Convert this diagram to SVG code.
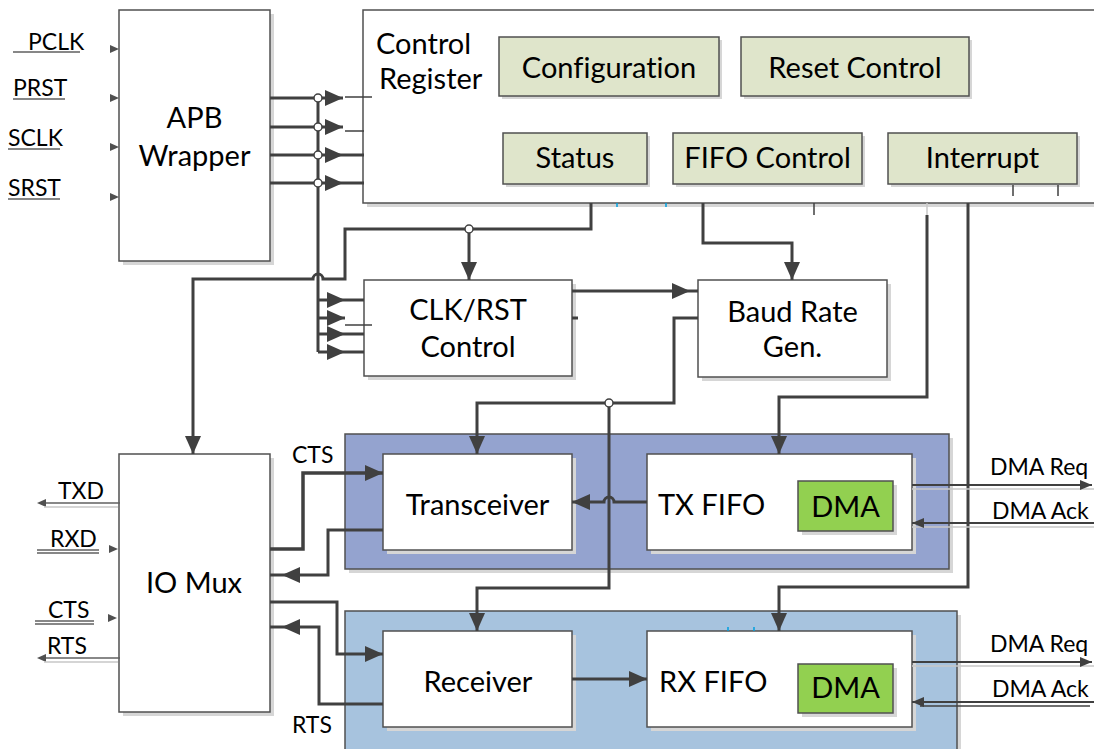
<svg xmlns="http://www.w3.org/2000/svg" width="1094" height="749" viewBox="0 0 1094 749">
  <defs>
    <style>
      .box { fill: #ffffff; stroke: #505050; stroke-width: 1.5; }
      .sh { fill: #d6d6d6; }
      .reg { fill: #dfe5cb; stroke: #505050; stroke-width: 1.5; }
      .dma { fill: #92d050; stroke: #505050; stroke-width: 1.5; }
      .txr { fill: #94a3cf; stroke: #505050; stroke-width: 1.5; }
      .rxr { fill: #a7c3de; stroke: #505050; stroke-width: 1.5; }
      .t { font-family: Lato, "Liberation Sans", sans-serif; font-size: 29px; fill: #000000; font-variant-ligatures: none; }
      .s { font-size: 23px; }
      .m { text-anchor: middle; }
      .w { fill: none; stroke: #404040; stroke-width: 3; }
      .n { fill: none; stroke: #404040; stroke-width: 1.5; }
      .g { fill: none; stroke: #c8c8c8; stroke-width: 1.5; }
      .io { fill: none; stroke: #606060; stroke-width: 1.5; }
      .j { fill: #ffffff; stroke: #404040; stroke-width: 1.5; }
      .pin { fill: #505050; }
      .tick { stroke: #00a0e0; stroke-width: 1.5; }
    </style>
    <marker id="arr" markerUnits="userSpaceOnUse" markerWidth="18" markerHeight="16" refX="18" refY="8" orient="auto">
      <path d="M0,0 L18,8 L0,16 z" fill="#404040"/>
    </marker>
    <marker id="arrs" markerUnits="userSpaceOnUse" markerWidth="12" markerHeight="10" refX="12" refY="5" orient="auto">
      <path d="M0,0 L12,5 L0,10 z" fill="#404040"/>
    </marker>
  </defs>

  <rect width="1094" height="749" fill="#ffffff"/>

  <!-- colour regions for the transmit and receive paths -->
  <g id="tx-path">
    <rect class="sh" x="349" y="438" width="604" height="135"/>
    <rect class="txr" x="345" y="434" width="604" height="135"/>
  </g>
  <g id="rx-path">
    <rect class="sh" x="349" y="615" width="612" height="150"/>
    <rect class="rxr" x="345" y="611" width="612" height="150"/>
  </g>

  <!-- APB wrapper -->
  <g id="apb-wrapper">
    <rect class="sh" x="123" y="14" width="151" height="251"/>
    <rect class="box" x="119" y="10" width="151" height="251"/>
    <text class="t m" x="194.5" y="128">APB</text>
    <text class="t m" x="194.5" y="166">Wrapper</text>
  </g>

  <!-- control register block and its fields -->
  <g id="control-register">
    <rect class="sh" x="367" y="14" width="740" height="193"/>
    <rect class="box" x="363" y="10" width="740" height="193"/>
    <text class="t" x="376" y="54">Control</text>
    <text class="t" x="379" y="89">Register</text>
  </g>
  <g id="configuration">
    <rect class="sh" x="502" y="40" width="220" height="59"/>
    <rect class="reg" x="499" y="37" width="220" height="59"/>
    <text class="t m" x="609" y="78">Configuration</text>
  </g>
  <g id="reset-control">
    <rect class="sh" x="744" y="40" width="228" height="59"/>
    <rect class="reg" x="741" y="37" width="228" height="59"/>
    <text class="t m" x="855" y="78">Reset Control</text>
  </g>
  <g id="status">
    <rect class="sh" x="506" y="136" width="144" height="51"/>
    <rect class="reg" x="503" y="133" width="144" height="51"/>
    <text class="t m" x="575" y="168">Status</text>
  </g>
  <g id="fifo-control">
    <rect class="sh" x="676" y="136" width="189" height="51"/>
    <rect class="reg" x="673" y="133" width="189" height="51"/>
    <text class="t m" x="767.5" y="168">FIFO Control</text>
  </g>
  <g id="interrupt">
    <rect class="sh" x="891" y="136" width="189" height="51"/>
    <rect class="reg" x="888" y="133" width="189" height="51"/>
    <text class="t m" x="982.5" y="168">Interrupt</text>
  </g>

  <!-- clock / reset control -->
  <g id="clk-rst-control">
    <rect class="sh" x="368" y="284" width="208" height="96"/>
    <rect class="box" x="364" y="280" width="208" height="96"/>
    <text class="t m" x="468" y="320">CLK/RST</text>
    <text class="t m" x="468" y="357">Control</text>
  </g>

  <!-- baud rate generator -->
  <g id="baud-rate-gen">
    <rect class="sh" x="702" y="284" width="189" height="97"/>
    <rect class="box" x="698" y="280" width="189" height="97"/>
    <text class="t m" x="792.5" y="322">Baud Rate</text>
    <text class="t m" x="792.5" y="357">Gen.</text>
  </g>

  <!-- IO multiplexer -->
  <g id="io-mux">
    <rect class="sh" x="123" y="458" width="151" height="258"/>
    <rect class="box" x="119" y="454" width="151" height="258"/>
    <text class="t m" x="194" y="593">IO Mux</text>
  </g>

  <!-- transmit side -->
  <g id="transceiver">
    <rect class="sh" x="387" y="458" width="189" height="96"/>
    <rect class="box" x="383" y="454" width="189" height="96"/>
    <text class="t m" x="477.5" y="515">Transceiver</text>
  </g>
  <g id="tx-fifo">
    <rect class="sh" x="651" y="458" width="265" height="96"/>
    <rect class="box" x="647" y="454" width="265" height="96"/>
    <text class="t" x="658" y="515">TX FIFO</text>
    <rect class="sh" x="802" y="485" width="95" height="50"/>
    <rect class="dma" x="798" y="481" width="95" height="50"/>
    <text class="t m" x="845.5" y="517">DMA</text>
  </g>

  <!-- receive side -->
  <g id="receiver">
    <rect class="sh" x="387" y="635" width="189" height="96"/>
    <rect class="box" x="383" y="631" width="189" height="96"/>
    <text class="t m" x="478" y="692">Receiver</text>
  </g>
  <g id="rx-fifo">
    <rect class="sh" x="651" y="635" width="265" height="96"/>
    <rect class="box" x="647" y="631" width="265" height="96"/>
    <text class="t" x="659" y="692">RX FIFO</text>
    <rect class="sh" x="802" y="668" width="95" height="49"/>
    <rect class="dma" x="798" y="664" width="95" height="49"/>
    <text class="t m" x="845.5" y="698">DMA</text>
  </g>

  <!-- connectors -->
  <g id="connectors">
    <!-- APB bus into the control register -->
    <path class="w" d="M270,98 H343" marker-end="url(#arr)"/>
    <path class="w" d="M270,127 H343" marker-end="url(#arr)"/>
    <path class="w" d="M270,155 H343" marker-end="url(#arr)"/>
    <path class="w" d="M270,183 H343" marker-end="url(#arr)"/>
    <path class="n" d="M345,97 H372 M345,131 H364"/>
    <path class="w" d="M343,155 H364 M343,183 H364"/>
    <!-- bus tap down to CLK/RST control -->
    <path class="w" d="M318,98 V352"/>
    <path class="w" d="M318,300 H345" marker-end="url(#arr)"/>
    <path class="w" d="M318,318 H345" marker-end="url(#arr)"/>
    <path class="w" d="M318,334 H345" marker-end="url(#arr)"/>
    <path class="w" d="M318,352 H345" marker-end="url(#arr)"/>
    <path class="w" d="M345,300 H364 M345,334 H364 M345,352 H364"/>
    <path class="n" d="M345,325 H372"/>
    <circle class="j" cx="318" cy="98" r="4"/>
    <circle class="j" cx="318" cy="127" r="4"/>
    <circle class="j" cx="318" cy="155" r="4"/>
    <circle class="j" cx="318" cy="183" r="4"/>

    <!-- status line to CLK/RST control and IO mux -->
    <path class="w" d="M591,203 V229 H345 V279 H323 A5,5 0 0 0 313,279 H193 V454" marker-end="url(#arr)"/>
    <path class="w" d="M469,229 V280" marker-end="url(#arr)"/>
    <circle class="j" cx="469" cy="229" r="4"/>

    <!-- FIFO control to baud rate generator -->
    <path class="w" d="M703,203 V243 H792 V280" marker-end="url(#arr)"/>
    <!-- CLK/RST control to baud rate generator -->
    <path class="w" d="M572,291 H690" marker-end="url(#arr)"/>
    <path class="w" d="M690,291 H698 M572,318 H578"/>

    <!-- baud clock to transceiver and receiver -->
    <path class="w" d="M698,318 H674 V403 H477 V454" marker-end="url(#arr)"/>
    <path class="w" d="M609,403 V588 H477 V631" marker-end="url(#arr)"/>
    <circle class="j" cx="609" cy="403" r="4"/>

    <!-- control register to the FIFOs -->
    <path class="g" d="M927,203 V215"/>
    <path class="w" d="M927,215 V397 H779 V454" marker-end="url(#arr)"/>
    <path class="w" d="M968,203 V587 H779 V631" marker-end="url(#arr)"/>
    <path class="n" d="M814,203 V215 M1013,185 V196 M1058,185 V196"/>
    <path class="tick" d="M617,203 V207 M666,203 V207 M728,627 V631 M754,627 V631"/>

    <!-- data paths -->
    <path class="w" d="M647,502 H614 A5,5 0 0 0 604,502 H572" marker-end="url(#arr)"/>
    <path class="w" d="M572,679 H647" marker-end="url(#arr)"/>

    <!-- IO mux to transceiver / receiver -->
    <path class="w" d="M270,549 H303 V473 H383" marker-end="url(#arr)" style="stroke-width:3.5"/>
    <path class="w" d="M383,530 H328 V575 H282" marker-end="url(#arr)"/>
    <path class="w" d="M282,575 H270"/>
    <path class="w" d="M270,602 H337 V654 H383" marker-end="url(#arr)"/>
    <path class="w" d="M383,704 H319 V627 H282" marker-end="url(#arr)"/>
    <path class="w" d="M282,627 H270"/>

    <!-- DMA handshake -->
    <path class="g" d="M912,489 H1094 M912,527 H1094 M912,666 H1094"/>
    <path class="n" d="M912,485 H1092" marker-end="url(#arrs)" style="stroke-width:2"/>
    <path class="n" d="M1094,523 H912" marker-end="url(#arrs)" style="stroke-width:2"/>
    <path class="n" d="M912,662 H1092" marker-end="url(#arrs)" style="stroke-width:2"/>
    <path class="n" d="M1094,702 H912" marker-end="url(#arrs)" style="stroke-width:2"/>
    <path class="n" d="M920,706 H1090"/>

    <!-- external pins -->
    <polygon class="pin" points="110,45 119,49 110,53"/>
    <polygon class="pin" points="110,94 119,98 110,102"/>
    <polygon class="pin" points="110,143 119,147 110,151"/>
    <polygon class="pin" points="110,193 119,197 110,201"/>
    <polygon class="pin" points="109,545 118,549 109,553"/>
    <polygon class="pin" points="108,614 117,618 108,622"/>
    <path class="io" d="M120,503 H44"/>
    <polygon class="pin" points="37,503 46,499 46,507"/>
    <path class="io" d="M120,658 H44"/>
    <polygon class="pin" points="37,658 46,654 46,662"/>
    <path class="g" d="M44,507 H118 M44,662 H118"/>
    <path class="io" d="M13,52 H80 M13,99 H65 M8,149 H60 M8,199 H60"/>
    <path class="io" d="M37,550 H99 M37,553 H99 M35,621 H94 M35,624 H94"/>
  </g>

  <!-- pin and signal labels -->
  <g id="labels">
    <text class="t s" x="28" y="50">PCLK</text>
    <text class="t s" x="13" y="96">PRST</text>
    <text class="t s" x="8" y="146">SCLK</text>
    <text class="t s" x="8" y="196">SRST</text>
    <text class="t s" x="58" y="499">TXD</text>
    <text class="t s" x="50" y="547">RXD</text>
    <text class="t s" x="48" y="618">CTS</text>
    <text class="t s" x="47" y="654">RTS</text>
    <text class="t s" x="292" y="463">CTS</text>
    <text class="t s" x="292" y="733">RTS</text>
    <text class="t s" x="990" y="475">DMA Req</text>
    <text class="t s" x="992" y="519">DMA Ack</text>
    <text class="t s" x="990" y="652">DMA Req</text>
    <text class="t s" x="992" y="697">DMA Ack</text>
  </g>
</svg>
